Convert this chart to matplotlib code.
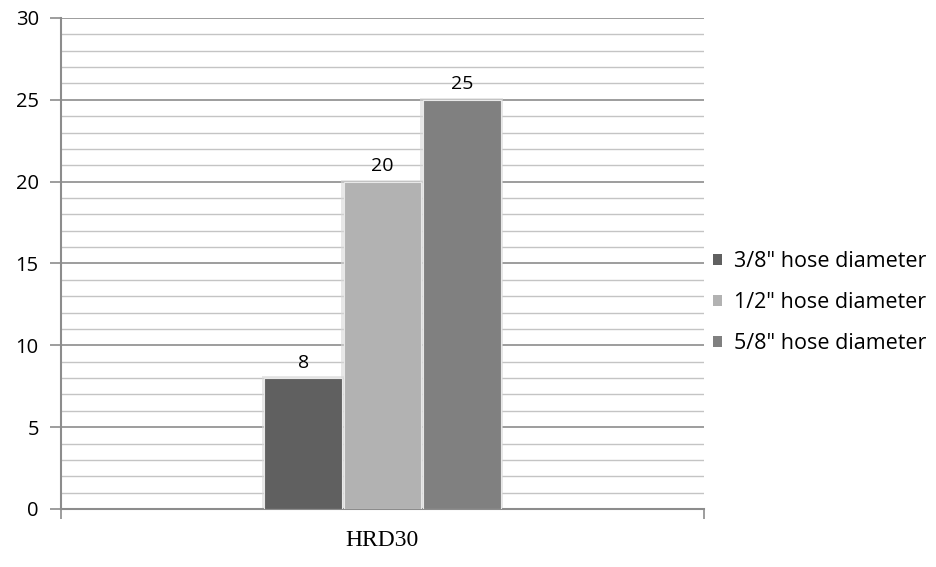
import matplotlib
matplotlib.use("Agg")
import matplotlib.pyplot as plt
from matplotlib.ticker import MultipleLocator
from matplotlib.patches import Rectangle

category = "HRD30"
series_names = ['3/8" hose diameter', '1/2" hose diameter', '5/8" hose diameter']
values = [8, 20, 25]
colors = ["#606060", "#b2b2b2", "#808080"]
yticks = [0, 5, 10, 15, 20, 25, 30]

fig = plt.figure(figsize=(9.37, 5.67), dpi=100)
ax = fig.add_axes([0.0651, 0.1023, 0.6862, 0.866])

ax.set_xlim(-0.5, 0.5)
ax.set_ylim(0, 30)

width = 0.121
offsets = [-0.1235, 0.0, 0.1235]
bars = []
for i, (name, v, c) in enumerate(zip(series_names, values, colors)):
    ax.add_patch(Rectangle((offsets[i] - width / 2 - 0.004, 0), width + 0.008, v + 0.12,
                           facecolor="#d8d8d8", edgecolor="none", zorder=2, alpha=0.6))
    b = ax.bar(offsets[i], v, width=width, color=c, label=name, zorder=3,
               edgecolor="#e8e8e8", linewidth=0.8)
    bars.append(b)
    ax.text(offsets[i], v + 0.4, str(v), ha="center", va="bottom",
            fontsize=14, family="Open Sans", color="#000000", zorder=4)

ax.set_yticks(yticks)
ax.set_yticklabels([str(t) for t in yticks], fontsize=14.5, family="Open Sans")
ax.yaxis.set_minor_locator(MultipleLocator(1))
ax.grid(which="major", axis="y", color="#8c8c8c", linewidth=1.2, zorder=0)
ax.grid(which="minor", axis="y", color="#c4c4c4", linewidth=1.0, zorder=0)
ax.tick_params(axis="y", which="major", length=8, width=1.2, color="#8c8c8c", pad=8)
ax.tick_params(axis="y", which="minor", length=0)

ax.set_xticks([-0.5, 0.5])
ax.set_xticklabels(["", ""])
ax.tick_params(axis="x", length=7, width=1.2, color="#8c8c8c")
ax.text(0, -0.064, category, transform=ax.get_xaxis_transform(), ha="center", va="center",
        fontsize=17, family="Liberation Serif")

for s in ["top", "right"]:
    ax.spines[s].set_visible(False)
ax.spines["left"].set_color("#8c8c8c")
ax.spines["left"].set_linewidth(1.5)
ax.spines["bottom"].set_color("#8c8c8c")
ax.spines["bottom"].set_linewidth(1.5)

leg = fig.legend(handles=[b for b in bars], labels=series_names,
                 loc="center left", bbox_to_anchor=(0.761, 0.466),
                 frameon=False, handlelength=0.42, handleheight=0.42,
                 handletextpad=0.55, labelspacing=0.93, borderpad=0, borderaxespad=0,
                 prop={"family": "Open Sans", "size": 15.5})
for h in leg.legend_handles:
    h.set_edgecolor("none")

fig.savefig("out.png", dpi=100)
